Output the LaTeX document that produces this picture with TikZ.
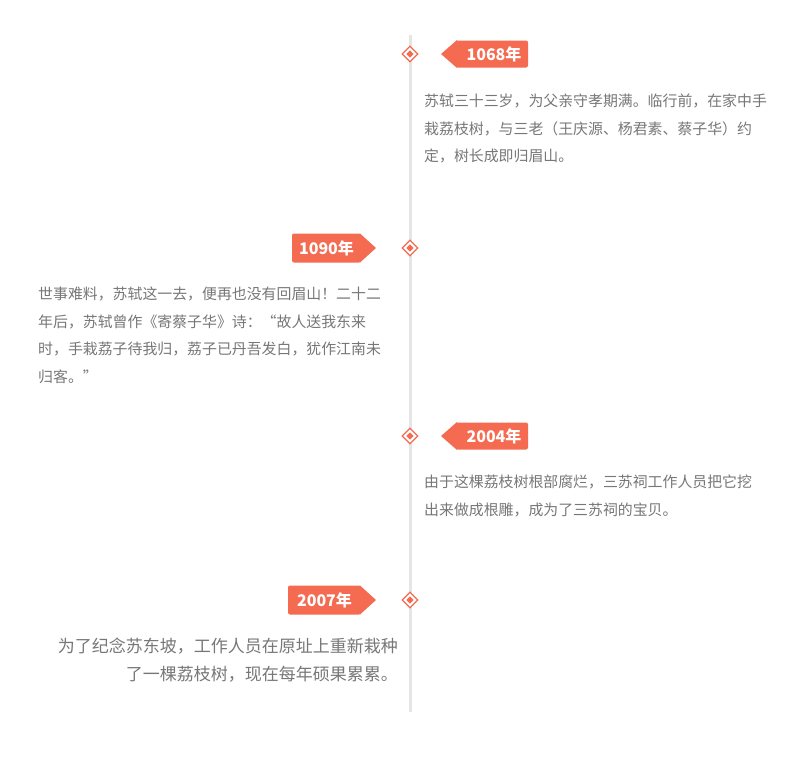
\documentclass[tikz,border=0pt]{standalone}
\usepackage{fontspec}
\setmainfont{Noto Sans CJK SC}
\usetikzlibrary{positioning,shapes.geometric}
\definecolor{coral}{HTML}{F46B52}
\definecolor{note}{HTML}{777777}
\tikzset{
  dot/.style={diamond,draw=coral,fill=white,line width=1.2pt,minimum size=16pt,inner sep=0pt},
  dotin/.style={diamond,fill=coral,minimum size=7.5pt,inner sep=0pt},
  yeartext/.style={text=white,font=\fontsize{16}{18}\selectfont\bfseries},
  body/.style={text=note,font=\fontsize{14.9}{27.5}\selectfont,inner sep=0pt}
}
\begin{document}
\begin{tikzpicture}[x=1pt,y=-1pt]
\useasboundingbox (0,0) rectangle (811,769);
\fill[white] (0,0) rectangle (811,769);
\fill[black!10] (408.5,35) rectangle (411.5,712);
% years on the right
\foreach \yy/\lab in {54/1068, 436/2004}{
  \fill[coral,rounded corners=2pt] (456,\yy-13.5) -- (528,\yy-13.5) -- (528,\yy+13.5) -- (456,\yy+13.5) -- cycle;
  \fill[coral] (441,\yy) -- (457,\yy-14) -- (457,\yy+14) -- cycle;
  \node[yeartext] at (494,\yy) {\lab 年};
}
% years on the left
\foreach \yy/\lab/\xx in {248/1090/292, 600/2007/288}{
  \fill[coral,rounded corners=2pt] (\xx,\yy-14.5) -- (361,\yy-14.5) -- (361,\yy+14.5) -- (\xx,\yy+14.5) -- cycle;
  \fill[coral] (376,\yy) -- (360,\yy-14.5) -- (360,\yy+14.5) -- cycle;
  \node[yeartext] at ({(\xx+361)/2},\yy) {\lab 年};
}
\foreach \yy/\nm in {54/a, 248/b, 436/c, 600/d}{
  \node[dot] (\nm) at (410,\yy) {};
  \node[dotin] at (\nm) {};
}
\node[body,anchor=north west,align=left] (ta) at (424,94)
  {苏轼三十三岁，为父亲守孝期满。临行前，在家中手\\栽荔枝树，与三老（王庆源、杨君素、蔡子华）约\\定，树长成即归眉山。};
\node[body,anchor=north west,align=left] (tb) at (38,287)
  {世事难料，苏轼这一去，便再也没有回眉山！二十二\\年后，苏轼曾作《寄蔡子华》诗：“故人送我东来\\时，手栽荔子待我归，荔子已丹吾发白，犹作江南未\\归客。”};
\node[body,anchor=north west,align=left] (tc) at (424,475)
  {由于这棵荔枝树根部腐烂，三苏祠工作人员把它挖\\出来做成根雕，成为了三苏祠的宝贝。};
\node[body,anchor=north east,align=right,font=\fontsize{17}{27.5}\selectfont] (td) at (398,638)
  {为了纪念苏东坡，工作人员在原址上重新栽种\\了一棵荔枝树，现在每年硕果累累。};
\end{tikzpicture}
\end{document}
